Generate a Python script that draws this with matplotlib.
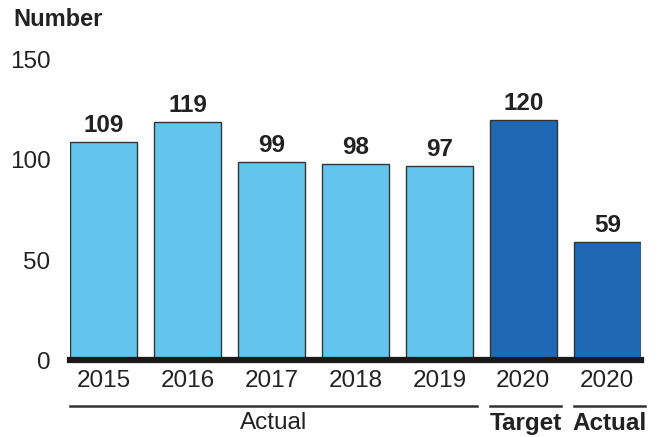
import matplotlib
matplotlib.use('Agg')
import matplotlib.pyplot as plt

plt.rcParams['font.family'] = ['Liberation Sans', 'DejaVu Sans']

# data
years = ['2015', '2016', '2017', '2018', '2019', '2020', '2020']
values = [109, 119, 99, 98, 97, 120, 59]
colors = ['#63C5EE'] * 5 + ['#1F69B4', '#1F69B4']
groups = [('Actual', 0, 4, 'normal'), ('Target', 5, 5, 'bold'), ('Actual', 6, 6, 'bold')]

fig = plt.figure(figsize=(6.6, 4.37), dpi=100)
fig.patch.set_facecolor('white')
ax = fig.add_axes([0.106, 0.176, 0.865, 0.687])

x = list(range(len(values)))
ax.bar(x, values, width=0.8, color=colors, edgecolor='#333333', linewidth=1, zorder=2)

for xi, v in zip(x, values):
    ax.text(xi, v + 2.5, str(v), ha='center', va='bottom', fontsize=17.5,
            fontweight='bold', color='#222222')

ax.set_xlim(-0.4, 6.4)
ax.set_ylim(0, 150)
ax.set_yticks([0, 50, 100, 150])
ax.set_xticks(x)
ax.set_xticklabels(years)
ax.tick_params(axis='both', length=0, labelsize=17.5, colors='#222222')
ax.tick_params(axis='y', pad=14)
ax.tick_params(axis='x', pad=7)
for s in ['top', 'right', 'left']:
    ax.spines[s].set_visible(False)
ax.spines['bottom'].set_linewidth(4.5)
ax.spines['bottom'].set_color('#1a1a1a')
ax.spines['bottom'].set_zorder(3)

# group brackets under the year labels
trans = ax.get_xaxis_transform()
for label, i0, i1, weight in groups:
    x0, x1 = i0 - 0.4, i1 + 0.45
    ax.plot([x0, x1], [-0.152, -0.152], color='#333333', lw=1.8,
            transform=trans, clip_on=False)
    ax.text((x0 + x1) / 2, -0.172, label, transform=trans, ha='center', va='top',
            fontsize=17.5, fontweight=weight, color='#222222')

fig.text(0.02, 0.955, 'Number', ha='left', va='center', fontsize=17,
         fontweight='bold', color='#222222')

fig.savefig('out.png', dpi=100, facecolor='white')
